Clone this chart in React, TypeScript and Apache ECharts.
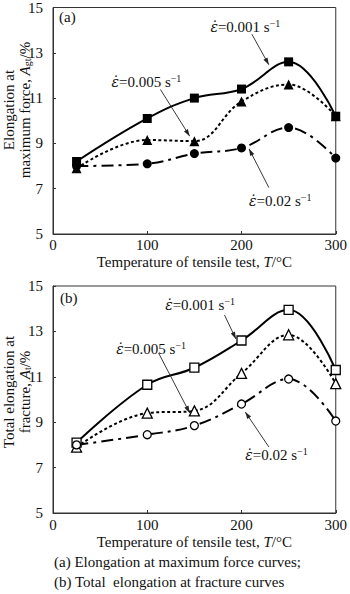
import React, { useEffect, useRef } from 'react';
import * as echarts from 'echarts';

// ---- data ----
const temps = [25, 100, 150, 200, 250, 300];
// (a) elongation at maximum force, Agt/%
const agtRate001 = [8.2, 10.1, 11.0, 11.4, 12.6, 10.2];
const agtRate005 = [7.9, 9.15, 9.1, 10.85, 11.6, 10.2];
const agtRate002 = [8.0, 8.1, 8.55, 8.8, 9.7, 8.35];
// (b) total elongation at fracture, At/%
const atRate001 = [8.1, 10.65, 11.4, 12.6, 13.95, 11.3];
const atRate005 = [7.9, 9.4, 9.5, 11.15, 12.85, 10.7];
const atRate002 = [8.0, 8.45, 8.85, 9.8, 10.9, 9.05];

const rateLabels = ['0.001', '0.005', '0.02'];
const xTicks = [0, 300, 100];
const yTicks = [5, 15, 2];
const captions = ['(a) Elongation at maximum force curves;', '(b) Total  elongation at fracture curves'];
const yNames = [
  'Elongation at\nmaximum force, {i|A}{sub|gt}/%',
  'Total elongation at\nfracture, {i|A}{sub|t}/%',
];

// annotation placement in data coordinates: [gridIndex, rateIdx, textX, textY, fromX, fromY, toX, toY]
const annotations: number[][] = [
  [0, 0, 167, 14.13, 211, 13.82, 229, 12.47],
  [0, 1, 62, 11.72, 114, 11.38, 145, 9.32],
  [0, 2, 208, 6.44, 229, 7.05, 208, 8.76],
  [1, 0, 119, 14.16, 182, 13.72, 194, 12.67],
  [1, 1, 67, 12.22, 112, 12.05, 145, 9.41],
  [1, 2, 204, 7.56, 229, 7.91, 204, 9.45],
];

const FONT = 'Liberation Serif, Times New Roman, serif';
const FS = 15;

const zip = (ys: number[]) => temps.map((t, i) => [t, ys[i]]);

function makeSeries(name: string, ys: number[], idx: number, symbol: string, size: number, filled: boolean, lineType: any) {
  return {
    name,
    type: 'line',
    xAxisIndex: idx,
    yAxisIndex: idx,
    data: zip(ys),
    smooth: 0.4,
    symbol,
    symbolSize: size,
    showSymbol: true,
    lineStyle: { color: '#000', width: 2, type: lineType },
    itemStyle: { color: filled ? '#000' : '#fff', borderColor: '#000', borderWidth: filled ? 0 : 1.3 },
    z: 3,
  };
}

export default function App() {
  const ref = useRef<HTMLDivElement>(null);
  useEffect(() => {
    if (!ref.current) return;
    const chart = echarts.init(ref.current, undefined, { renderer: 'svg' });
    const grids = [
      { left: 53, top: 5, width: 287, height: 229 },
      { left: 53, top: 286, width: 286, height: 227 },
    ];
    const xAxis = [0, 1].map((g) => ({
      type: 'value',
      gridIndex: g,
      min: xTicks[0],
      max: xTicks[1],
      interval: xTicks[2],
      name: 'Temperature of tensile test, {i|T}/°C',
      nameLocation: 'middle',
      nameGap: g === 0 ? 20 : 21,
      nameTextStyle: {
        color: '#111', fontFamily: FONT, fontSize: FS, verticalAlign: 'top',
        rich: { i: { fontStyle: 'italic', fontFamily: FONT, fontSize: FS, color: '#111' } },
      },
      axisLine: { show: true, lineStyle: { color: '#333', width: 1 } },
      axisTick: { show: true, inside: true, length: 3, lineStyle: { color: '#333' } },
      axisLabel: { color: '#111', fontFamily: FONT, fontSize: FS, margin: g === 0 ? 3 : 4 },
      splitLine: { show: false },
    }));
    const yAxis = [0, 1].map((g) => ({
      type: 'value',
      gridIndex: g,
      min: yTicks[0],
      max: yTicks[1],
      interval: yTicks[2],
      axisLine: { show: true, lineStyle: { color: '#333', width: 1 } },
      axisTick: { show: true, inside: true, length: 3, lineStyle: { color: '#333' } },
      axisLabel: { color: '#111', fontFamily: FONT, fontSize: FS, margin: 10 },
      splitLine: { show: false },
    }));
    const dotted = [3, 2.5];
    const dashDot = [12, 5, 3, 5];
    const series = [
      makeSeries('a1', agtRate001, 0, 'rect', 9, true, 'solid'),
      makeSeries('a2', agtRate005, 0, 'triangle', 10, true, dotted),
      makeSeries('a3', agtRate002, 0, 'circle', 9, true, dashDot),
      makeSeries('b1', atRate001, 1, 'rect', 9, false, 'solid'),
      makeSeries('b2', atRate005, 1, 'triangle', 10, false, dotted),
      makeSeries('b3', atRate002, 1, 'circle', 8, false, dashDot),
    ];
    chart.setOption({
      animation: false,
      backgroundColor: '#fff',
      textStyle: { fontFamily: FONT },
      grid: grids.map((g) => ({ ...g, show: true, borderColor: '#333', borderWidth: 1, backgroundColor: 'transparent' })),
      xAxis,
      yAxis,
      series,
    });

    const graphics: any[] = [];
    const richStyle = {
      e: { fontStyle: 'italic', fontFamily: 'DejaVu Serif', fontSize: 14, fill: '#111' },
      s: { fontFamily: FONT, fontSize: 10, fill: '#111', verticalAlign: 'top', lineHeight: 17 },
    };
    annotations.forEach((a) => {
      const [g, r, tx, ty, fx, fy, ex, ey] = a;
      const tp = chart.convertToPixel({ gridIndex: g } as any, [tx, ty]) as number[];
      const fp = chart.convertToPixel({ gridIndex: g } as any, [fx, fy]) as number[];
      const ep = chart.convertToPixel({ gridIndex: g } as any, [ex, ey]) as number[];
      graphics.push({
        type: 'text',
        x: tp[0],
        y: tp[1],
        z: 10,
        style: {
          text: `{e|\u03b5\u0307}=${rateLabels[r]} s{s|\u22121}`,
          fontFamily: FONT,
          fontSize: FS,
          fill: '#111',
          verticalAlign: 'middle',
          align: 'left',
          lineHeight: 17,
          rich: richStyle,
        },
      });
      graphics.push({
        type: 'line',
        z: 10,
        shape: { x1: fp[0], y1: fp[1], x2: ep[0], y2: ep[1] },
        style: { stroke: '#222', lineWidth: 0.9 },
      });
      const dx = ep[0] - fp[0];
      const dy = ep[1] - fp[1];
      const len = Math.hypot(dx, dy) || 1;
      const ux = dx / len, uy = dy / len;
      const L = 7, W = 2.3;
      graphics.push({
        type: 'polygon',
        z: 10,
        shape: {
          points: [
            [ep[0], ep[1]],
            [ep[0] - ux * L - uy * W, ep[1] - uy * L + ux * W],
            [ep[0] - ux * L + uy * W, ep[1] - uy * L - ux * W],
          ],
        },
        style: { fill: '#222' },
      });
    });
    // rotated y-axis titles
    const nameRich = {
      i: { fontStyle: 'italic', fontFamily: FONT, fontSize: FS, fill: '#111', lineHeight: 16 },
      sub: { fontFamily: FONT, fontSize: 10, fill: '#111', verticalAlign: 'bottom', lineHeight: 16 },
    };
    [[16.5, 110], [16.5, 392]].forEach((p, g) => {
      graphics.push({
        type: 'text',
        x: p[0],
        y: p[1],
        rotation: Math.PI / 2,
        z: 10,
        style: {
          text: yNames[g],
          fontFamily: FONT,
          fontSize: FS,
          fill: '#111',
          align: 'center',
          verticalAlign: 'middle',
          lineHeight: 16,
          rich: nameRich,
        },
      });
    });
    graphics.push({ type: 'text', x: 59, y: 17, z: 10, style: { text: '(a)', fontFamily: FONT, fontSize: FS, fill: '#111', verticalAlign: 'middle' } });
    graphics.push({ type: 'text', x: 60, y: 298, z: 10, style: { text: '(b)', fontFamily: FONT, fontSize: FS, fill: '#111', verticalAlign: 'middle' } });
    graphics.push({ type: 'text', x: 54, y: 562, z: 10, style: { text: captions[0], fontFamily: FONT, fontSize: FS, fill: '#111', verticalAlign: 'middle' } });
    graphics.push({ type: 'text', x: 54, y: 582, z: 10, style: { text: captions[1], fontFamily: FONT, fontSize: FS, fill: '#111', verticalAlign: 'middle' } });
    chart.setOption({ graphic: graphics });

    return () => chart.dispose();
  }, []);
  return <div ref={ref} style={{ position: 'fixed', left: 0, top: 0, width: 350, height: 594, background: '#fff' }} />;
}
